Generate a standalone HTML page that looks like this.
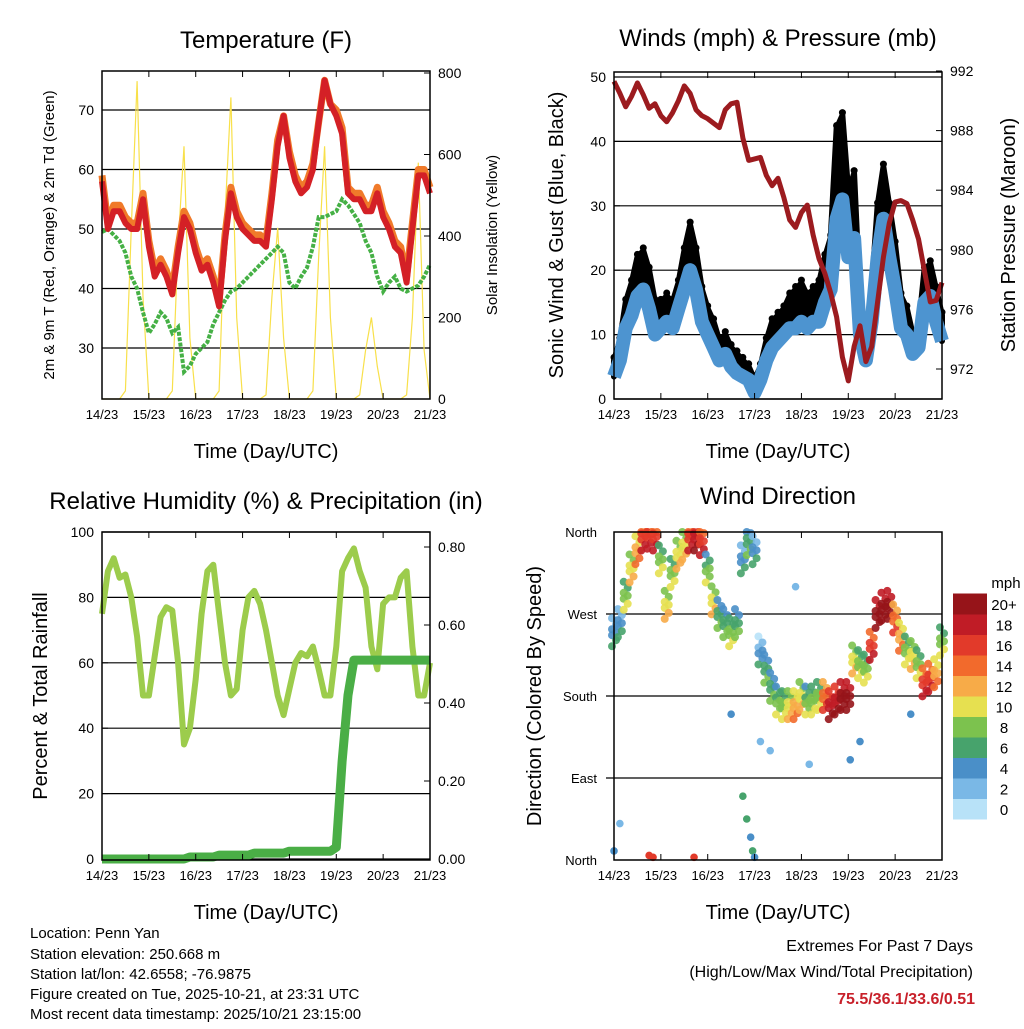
<!DOCTYPE html>
<html><head><meta charset="utf-8"><style>
body{margin:0;background:#fff;}
svg text{font-family:"Liberation Sans",sans-serif;fill:#000;}
</style></head><body>
<svg id="s" width="1024" height="1024" xmlns="http://www.w3.org/2000/svg">
<rect width="1024" height="1024" fill="#fff"/>
<text x="266" y="48" font-size="24" text-anchor="middle">Temperature (F)</text>
<text x="778" y="46" font-size="24" text-anchor="middle">Winds (mph) &amp; Pressure (mb)</text>
<text x="266" y="509" font-size="24" text-anchor="middle">Relative Humidity (%) &amp; Precipitation (in)</text>
<text x="778" y="504" font-size="24" text-anchor="middle">Wind Direction</text>
<text x="266" y="458" font-size="20" text-anchor="middle">Time (Day/UTC)</text>
<text x="778" y="458" font-size="20" text-anchor="middle">Time (Day/UTC)</text>
<text x="266" y="919" font-size="20" text-anchor="middle">Time (Day/UTC)</text>
<text x="778" y="919" font-size="20" text-anchor="middle">Time (Day/UTC)</text>
<text transform="translate(54,235) rotate(-90)" font-size="15" text-anchor="middle">2m &amp; 9m T (Red, Orange) &amp; 2m Td (Green)</text>
<text transform="translate(497,235) rotate(-90)" font-size="15" text-anchor="middle">Solar Insolation (Yellow)</text>
<text transform="translate(563,235) rotate(-90)" font-size="20" text-anchor="middle">Sonic Wind &amp; Gust (Blue, Black)</text>
<text transform="translate(1015,235) rotate(-90)" font-size="20" text-anchor="middle">Station Pressure (Maroon)</text>
<text transform="translate(47,696) rotate(-90)" font-size="20" text-anchor="middle">Percent &amp; Total Rainfall</text>
<text transform="translate(541,696) rotate(-90)" font-size="20" text-anchor="middle">Direction (Colored By Speed)</text>
<g font-size="15">
<text x="30" y="938">Location: Penn Yan</text>
<text x="30" y="959">Station elevation: 250.668 m</text>
<text x="30" y="979">Station lat/lon: 42.6558; -76.9875</text>
<text x="30" y="999">Figure created on Tue, 2025-10-21, at 23:31 UTC</text>
<text x="30" y="1019">Most recent data timestamp: 2025/10/21 23:15:00</text>
</g>
<g font-size="16" text-anchor="end">
<text x="973" y="951">Extremes For Past 7 Days</text>
<text x="973" y="977">(High/Low/Max Wind/Total Precipitation)</text>
<text x="975" y="1004" font-weight="bold" style="fill:#c8202a">75.5/36.1/33.6/0.51</text>
</g>
</svg>
<script>
// ---- data (3-hourly samples, hours since 14/23) ----
const hours = [0,3,6,9,12,15,18,21,24,27,30,33,36,39,42,45,48,51,54,57,60,63,66,69,72,75,78,81,84,87,90,93,96,99,102,105,108,111,114,117,120,123,126,129,132,135,138,141,144,147,150,153,156,159,162,165,168];
const dayLabels = ["14/23","15/23","16/23","17/23","18/23","19/23","20/23","21/23"];
const temp2m = [58,50,53,53,51,50,50,55,47,42,44,42,39,46,52,50,46,43,44,41,37,48,56,52,50,49,48,48,47,55,64,69,62,58,56,57,60,68,75,71,69,66,56,55,55,53,53,56,52,50,47,46,41,50,59,59,56];
const temp9m = [59,51,54,54,52,51,51,56,48,43,45,43,40,47,53,51,47,44,45,42,38,49,57,53,51,50,49,49,48,56,65,69,63,59,57,58,61,68,75,71,70,67,57,56,56,54,54,57,53,51,48,47,42,51,60,60,57];
const dewpoint = [49.5,50,49,48,46,42,40,36,32.5,34,36,35,32.5,33.5,26,27,29,30,31,34,36,38,39.5,40,41,42,43,44,45,46,47,46,41,40,42,43.5,47,52,52,52.5,53,55,54,52.5,51,48,46,42,39.5,41,42,40,39.5,40,40.5,42,44];
const solar = [0,0,0,0,20,420,780,250,0,0,0,0,20,380,620,150,0,0,0,0,20,450,740,200,0,0,0,0,10,250,420,150,0,0,0,0,20,350,620,200,0,0,0,0,10,120,200,80,0,0,0,0,10,200,580,120,0];
const tempTicks = [30,40,50,60,70];
const solarTicks = [0,200,400,600,800];
const windSpeed = [3.5,6,11,13,16,17,14,10,11,12,11,14,17,20,17,12,10,8,6,7,5,4,3.5,3,1,3,6,8,9,10,11,11,12,11,12,12,15,17,28,31,22,25,10,6,12,22,28,22,17,11,10,7,8,15,16,12,9];
const windGust = [6,9,15,18,22,23,20,15,15,16,15,18,23,27,23,17,14,12,9,10,8,7,6,5,3,5,9,12,13,14,16,17,18,16,17,18,22,25,42,44,32,35,15,9,17,30,36,30,24,16,14,10,11,20,21,17,13];
const pressure = [991.3,990.5,989.6,990.3,991.2,990.4,989.5,989.8,989.0,988.6,989.2,990.0,991.0,990.5,989.4,989.0,988.8,988.5,988.2,989.4,989.8,989.9,987.5,986.0,986.1,986.2,985.0,984.3,984.8,983.5,982.0,981.5,982.5,983.0,981.0,979.4,978.4,977.1,975.5,972.8,971.2,973.5,974.9,972.5,973.5,976.5,979.5,981.8,983.2,983.3,983.1,982.0,980.7,978.6,976.5,976.6,977.8];
const windTicks = [0,10,20,30,40,50];
const pressTicks = [972,976,980,984,988,992];
const humidity = [75,88,92,86,87,80,68,50,50,62,74,77,76,60,35,40,55,75,88,90,75,60,50,52,70,80,82,78,70,60,50,44,52,60,63,62,65,58,50,50,65,88,92,95,88,83,65,58,78,80,80,86,88,65,50,50,60];
const precip = [0,0,0,0,0,0,0,0,0,0,0,0,0,0,0,0.005,0.005,0.005,0.005,0.005,0.01,0.01,0.01,0.01,0.01,0.01,0.015,0.015,0.015,0.015,0.015,0.015,0.02,0.02,0.02,0.02,0.02,0.02,0.02,0.02,0.03,0.25,0.42,0.51,0.51,0.51,0.51,0.51,0.51,0.51,0.51,0.51,0.51,0.51,0.51,0.51,0.51];
const rhTicks = [0,20,40,60,80,100];
const precipTicks = [0,0.2,0.4,0.6,0.8];
const windDir = [250,260,290,320,340,355,357,355,330,280,315,335,345,355,355,350,320,285,270,260,250,260,330,350,340,230,210,190,175,170,170,170,180,175,175,180,180,170,175,180,180,220,215,210,235,270,278,280,265,245,230,225,215,195,200,205,240];
const dirSpeed = [4,4,8,10,12,16,16,16,8,10,8,10,10,16,18,16,7,10,6,6,8,6,4,6,4,3,6,6,7,8,10,12,10,7,8,8,14,18,18,20,20,10,8,8,16,20,20,20,14,12,8,10,8,16,16,12,8];
const extraHours = [18,20,41,66,68,70,71,72,3,0,75,80,100,121,126,93,60,152];
const extraDir = [5,3,3,70,45,25,10,3,40,10,130,120,105,110,130,300,160,160];
const extraSpeed = [16,16,16,6,6,4,6,4,1,4,2,1,2,4,4,1,3,4];
const dirLabels = ["North","East","South","West","North"];
const speedBins = ["0","2","4","6","8","10","12","14","16","18","20+"];
const speedColors = ["#b8e2f8","#7ab8e6","#4a8fc8","#47a36c","#7cc24e","#e6e050","#f7ab48","#f26a2c","#e23a2a","#c01c26","#961419"];

const NS="http://www.w3.org/2000/svg";
const svg=document.getElementById('s');
function el(tag,attrs,parent){const e=document.createElementNS(NS,tag);for(const k in attrs)e.setAttribute(k,attrs[k]);(parent||svg).appendChild(e);return e;}
function lin(d0,d1,r0,r1){return v=>r0+(v-d0)*(r1-r0)/(d1-d0);}
function pathOf(xs,ys,fx,fy){return xs.map((h,i)=>(i?'L':'M')+fx(h).toFixed(1)+','+fy(ys[i]).toFixed(1)).join('');}
function bandOf(xs,lo,hi,fx,fy){
  let d=xs.map((h,i)=>(i?'L':'M')+fx(h).toFixed(1)+','+fy(hi[i]).toFixed(1)).join('');
  for(let i=xs.length-1;i>=0;i--) d+='L'+fx(xs[i]).toFixed(1)+','+fy(lo[i]).toFixed(1);
  return d+'Z';
}

function frame(x0,x1,y0,y1,name){
  const g=el('g',{});
  
  
  el('rect',{x:x0,y:y0,width:x1-x0,height:y1-y0,fill:'none',stroke:'#000','stroke-width':1.5},g);
  const fx=lin(0,168,x0,x1);
  dayLabels.forEach((d,i)=>{
    const x=fx(i*24);
    el('line',{x1:x,x2:x,y1:y1,y2:y1-6,stroke:'#000'},g);
    el('line',{x1:x,x2:x,y1:y0,y2:y0+6,stroke:'#000'},g);
    const t=el('text',{x:x,y:y1+20,'font-size':13,'text-anchor':'middle'},g);
    t.textContent=d;
    
    
  });
  return g;
}
function yTicks(ticks,fy,x,side,fmt,grid,x0,x1,name){
  ticks.forEach(v=>{
    const y=fy(v);
    if(grid) el('line',{x1:x0,x2:x1,y1:y,y2:y,stroke:'#000','stroke-width':1.2});
    el('line',{x1:x,x2:x+(side<0?6:-6),y1:y,y2:y,stroke:'#000'});
    const t=el('text',{x:x+(side<0?-8:8),y:y+5,'font-size':14,'text-anchor':side<0?'end':'start'});
    t.textContent=fmt(v);
    
    
  });
}

// ---- Panel 1: temperature ----
{
  const x0=102,x1=430,y0=71,y1=399;
  const fx=lin(0,168,x0,x1), fy=lin(30,70,348,110), fs=lin(0,800,399,73);
  yTicks(tempTicks,fy,x0,-1,v=>v,true,x0,x1,'temp-tick-label');
  yTicks(solarTicks,fs,x1,1,v=>v,false,0,0,'solar-tick-label');
  const s=el('path',{d:pathOf(hours,solar,fx,fs),fill:'none',stroke:'#f8e04a','stroke-width':1.2});
  
  
  const d=el('path',{d:pathOf(hours,dewpoint,fx,fy),fill:'none',stroke:'#45b045','stroke-width':4,'stroke-dasharray':'4 1.5'});
  
  
  const o=el('path',{d:pathOf(hours,temp9m,fx,fy),fill:'none',stroke:'#f07a2a','stroke-width':7,'stroke-linejoin':'round'});
  
  
  const r=el('path',{d:pathOf(hours,temp2m,fx,fy),fill:'none',stroke:'#d42026','stroke-width':6,'stroke-linejoin':'round'});
  
  
  frame(x0,x1,y0,y1,'temperature');
}
// ---- Panel 2: winds ----
{
  const x0=614,x1=942,y0=72,y1=399;
  const fx=lin(0,168,x0,x1), fy=lin(0,50,399,77), fp=lin(972,992,369,71);
  yTicks(windTicks,fy,x0,-1,v=>v,true,x0,x1,'wind-tick-label');
  yTicks(pressTicks,fp,x1,1,v=>v,false,0,0,'pressure-tick-label');
  const g=el('path',{d:bandOf(hours,windSpeed,windGust,fx,fy),fill:'#000',stroke:'#000','stroke-width':6,'stroke-linejoin':'round'});
  
  
  hours.forEach((h,i)=>{
    const c=el('circle',{cx:fx(h),cy:fy(windGust[i])-3,r:3.5,fill:'#000'});
    
    
  });
  const w=el('path',{d:pathOf(hours,windSpeed,fx,fy),fill:'none',stroke:'#4d94d0','stroke-width':14,'stroke-linejoin':'round'});
  
  
  const p=el('path',{d:pathOf(hours,pressure,fx,fp),fill:'none',stroke:'#9c1b1f','stroke-width':5,'stroke-linejoin':'round'});
  
  
  frame(x0,x1,y0,y1,'winds');
}
// ---- Panel 3: humidity ----
{
  const x0=102,x1=430,y0=532,y1=860;
  const fx=lin(0,168,x0,x1), fy=lin(0,100,859,532), fp=lin(0,0.8,859,547);
  yTicks(rhTicks,fy,x0,-1,v=>v,true,x0,x1,'rh-tick-label');
  yTicks(precipTicks,fp,x1,1,v=>v.toFixed(2),false,0,0,'precip-tick-label');
  const h=el('path',{d:pathOf(hours,humidity,fx,fy),fill:'none',stroke:'#9ccc4c','stroke-width':6,'stroke-linejoin':'round'});
  
  
  const p=el('path',{d:pathOf(hours,precip,fx,fp),fill:'none',stroke:'#4aae46','stroke-width':9,'stroke-linejoin':'round'});
  
  
  frame(x0,x1,y0,y1,'humidity');
}
// ---- Panel 4: wind direction ----
{
  const x0=614,x1=942,y0=532,y1=860;
  const fx=lin(0,168,x0,x1), fy=lin(0,360,860,532);
  [90,180,270].forEach(v=>el('line',{x1:606,x2:x1,y1:fy(v),y2:fy(v),stroke:'#000','stroke-width':1.2}));
  [0,90,180,270,360].forEach((v,i)=>{
    const t=el('text',{x:597,y:fy(v)+5,'font-size':13,'text-anchor':'end'});
    t.textContent=dirLabels[i];
    
    
  });
  const colorOf=s=>speedColors[Math.min(10,Math.max(0,Math.round(s/2)))];
  const offs=[-14,-8,-3,0,3,8,14];
  hours.forEach((h,i)=>{
    offs.forEach((o,k)=>{
      const c=el('circle',{cx:fx(h)+(k%2?2:-2),cy:Math.max(y0,Math.min(y1,fy(windDir[i])+o)),r:4,fill:colorOf(dirSpeed[i]+(k-3)*0.7),opacity:0.9});
      
      
    });
  });
  extraHours.forEach((h,i)=>{
    const c=el('circle',{cx:fx(h),cy:fy(extraDir[i]),r:3.8,fill:colorOf(extraSpeed[i])});
    
    
  });
  frame(x0,x1,y0,y1,'wind-direction');
  const cb=el('g',{});
  
  
  const bh=20.5;
  speedBins.forEach((lab,i)=>{
    const y=819-(i+1)*bh;
    el('rect',{x:953,y:y,width:34,height:bh+0.5,fill:speedColors[i]},cb);
    const t=el('text',{x:1004,y:y+bh/2+6,'font-size':15,'text-anchor':'middle'},cb);
    t.textContent=lab;
    
    
  });
  const m=el('text',{x:1006,y:588,'font-size':15,'text-anchor':'middle'},cb);
  m.textContent='mph';
  
  
}
</script>
</body></html>
